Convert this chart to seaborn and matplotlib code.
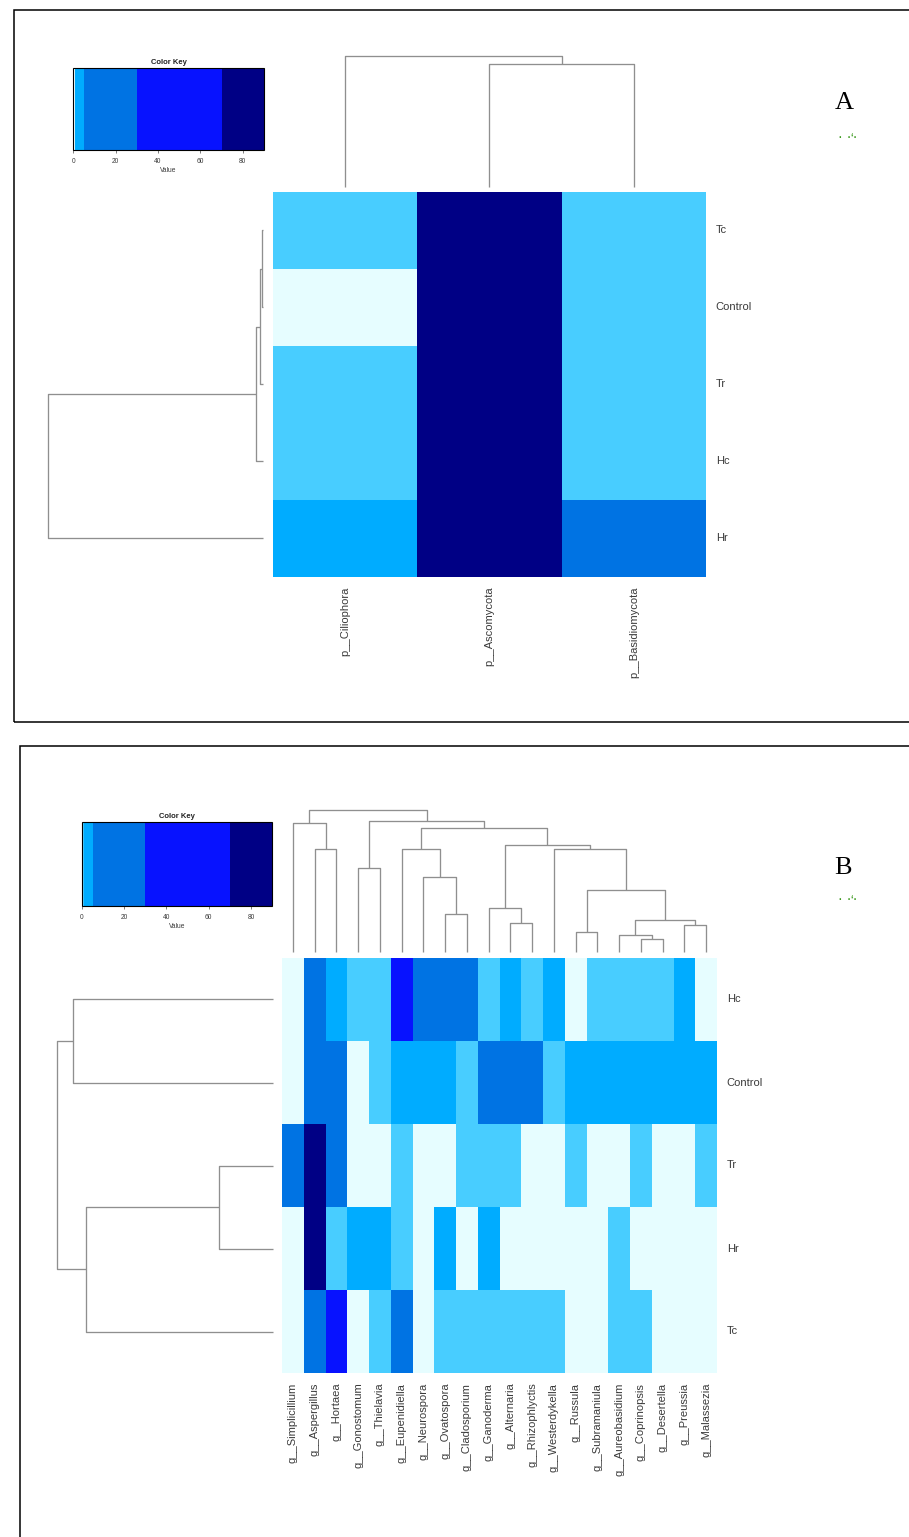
import numpy as np
import pandas as pd
import matplotlib
matplotlib.use("Agg")
import matplotlib.pyplot as plt
from matplotlib.colors import ListedColormap, BoundaryNorm
from matplotlib.cm import ScalarMappable
from matplotlib.ticker import NullLocator
import seaborn as sns

sns.set_theme(style="white")
plt.rcParams["font.family"] = ["Liberation Sans", "DejaVu Sans"]

# ---------------- data ----------------
# Panel A: phylum level abundance (%)
phylum_samples = ["Tc", "Control", "Tr", "Hc", "Hr"]
phyla = ["p__Ciliophora", "p__Ascomycota", "p__Basidiomycota"]
ciliophora = [0.8, 0.2, 0.9, 0.7, 2.6]
ascomycota = [84.5, 81.9, 83.2, 82.7, 78.4]
basidiomycota = [0.9, 0.8, 0.7, 0.8, 13.5]

# Panel B: genus level abundance (%)
genus_samples = ["Hc", "Control", "Tr", "Hr", "Tc"]
genera = ["g__Simplicillium", "g__Aspergillus", "g__Hortaea", "g__Gonostomum",
          "g__Thielavia", "g__Eupenidiella", "g__Neurospora", "g__Ovatospora",
          "g__Cladosporium", "g__Ganoderma", "g__Alternaria", "g__Rhizophlyctis",
          "g__Westerdykella", "g__Russula", "g__Subramaniula", "g__Aureobasidium",
          "g__Coprinopsis", "g__Desertella", "g__Preussia", "g__Malassezia"]
hc = [0.1, 12.4, 2.8, 0.8, 0.7, 41.6, 14.9, 9.8, 7.6, 0.9, 2.2, 0.8, 3.4, 0.2, 0.9, 0.8, 0.7, 0.8, 2.9, 0.3]
control = [0.2, 16.8, 11.3, 0.3, 0.8, 3.6, 2.9, 2.4, 0.9, 8.7, 6.1, 5.8, 0.9, 3.1, 2.6, 4.1, 2.3, 2.7, 1.9, 3.3]
tr = [9.4, 76.5, 13.2, 0.1, 0.2, 0.8, 0.1, 0.3, 0.9, 0.7, 0.8, 0.2, 0.1, 0.7, 0.2, 0.1, 0.8, 0.2, 0.1, 0.9]
hr = [0.2, 81.3, 0.9, 2.7, 3.4, 0.8, 0.2, 2.1, 0.3, 2.5, 0.2, 0.1, 0.3, 0.2, 0.1, 0.9, 0.2, 0.1, 0.2, 0.3]
tc = [0.3, 18.2, 47.5, 0.2, 0.8, 10.6, 0.1, 0.9, 0.8, 0.7, 0.8, 0.9, 0.7, 0.2, 0.3, 0.8, 0.9, 0.1, 0.2, 0.3]

# Hierarchical clustering results: (child a, child b, merge height);
# leaves are 0..n-1, merged clusters are numbered n, n+1, ...
phylum_row_tree = [(0, 1, 1.7), (5, 2, 3.3), (6, 3, 7.3), (7, 4, 215.0)]
phylum_col_tree = [(1, 2, 122.3), (0, 3, 130.7)]
genus_row_tree = [(0, 1, 199.4), (2, 3, 53.7), (6, 4, 186.7), (5, 7, 215.4)]
genus_col_tree = [(1, 2, 3.07), (0, 20, 3.87), (3, 4, 2.50), (7, 8, 1.12),
                  (6, 23, 2.23), (5, 24, 3.07), (10, 11, 0.85), (9, 26, 1.30),
                  (13, 14, 0.59), (16, 17, 0.39), (15, 29, 0.51), (18, 19, 0.79),
                  (30, 31, 0.95), (28, 32, 1.85), (12, 33, 3.07), (27, 34, 3.20),
                  (25, 35, 3.72), (22, 36, 3.93), (21, 37, 4.25)]

# colour scale
breaks = [0, 0.6, 1.0, 5, 30, 70, 90]
colors = ["#E6FDFF", "#48CDFF", "#00ACFF", "#0073E3", "#0712FF", "#000085"]
cmap = ListedColormap(colors)
norm = BoundaryNorm(breaks, cmap.N)

df_a = pd.DataFrame({phyla[0]: ciliophora, phyla[1]: ascomycota, phyla[2]: basidiomycota},
                    index=phylum_samples)
df_b = pd.DataFrame([hc, control, tr, hr, tc], index=genus_samples, columns=genera)

# ---------------- layout helpers ----------------
W, H = 909, 1537
fig = plt.figure(figsize=(W / 100, H / 100), dpi=100)
fig.patch.set_facecolor("white")


def px_axes(x0, y0, x1, y1):
    return fig.add_axes([x0 / W, 1 - y1 / H, (x1 - x0) / W, (y1 - y0) / H])


LINE = "#8f8f8f"
TXT = "#3a3a3a"


def draw_dendrogram(ax, tree, n, orient):
    pos = {i: i + 0.5 for i in range(n)}
    hgt = {i: 0.0 for i in range(n)}
    for k, (a, b, h) in enumerate(tree):
        xs = [pos[a], pos[a], pos[b], pos[b]]
        ys = [hgt[a], h, h, hgt[b]]
        if orient == "top":
            ax.plot(xs, ys, color=LINE, lw=0.95, clip_on=False, solid_capstyle="butt")
        else:
            ax.plot(ys, xs, color=LINE, lw=0.95, clip_on=False, solid_capstyle="butt")
        pos[n + k] = (pos[a] + pos[b]) / 2
        hgt[n + k] = h
    root = tree[-1][2]
    if orient == "top":
        ax.set_xlim(0, n)
        ax.set_ylim(0, root)
    else:
        ax.set_ylim(n, 0)
        ax.set_xlim(root, 0)
    ax.axis("off")


def draw_heatmap(ax, df):
    sns.heatmap(df, ax=ax, cmap=cmap, norm=norm, cbar=False,
                xticklabels=list(df.columns), yticklabels=list(df.index))
    ax.set_xlabel("")
    ax.set_ylabel("")
    ax.yaxis.tick_right()
    ax.tick_params(axis="both", length=0, labelsize=8, labelcolor=TXT, pad=7)
    for t in ax.get_yticklabels():
        t.set_rotation(0)
        t.set_ha("left")
        t.set_va("center")
    for t in ax.get_xticklabels():
        t.set_rotation(90)
        t.set_ha("center")
        t.set_va("top")


def draw_key(ax):
    cb = fig.colorbar(ScalarMappable(norm=norm, cmap=cmap), cax=ax,
                      orientation="horizontal", spacing="proportional",
                      ticks=[0, 20, 40, 60, 80])
    cb.outline.set_edgecolor("black")
    cb.outline.set_linewidth(0.8)
    ax.xaxis.set_minor_locator(NullLocator())
    ax.tick_params(axis="x", which="major", bottom=True, labelsize=4.8, length=2.5,
                   width=0.6, pad=3, labelcolor=TXT, color="#666666", direction="out")
    ax.set_xlabel("Value", fontsize=4.8, labelpad=2, color=TXT)
    ax.set_title("Color Key", fontsize=5.5, fontweight="bold", pad=3, color="#222222")


# ---------------- panel A ----------------
ax_hA = px_axes(272.7, 192, 706, 577)
draw_heatmap(ax_hA, df_a)
ax_cA = px_axes(272.7, 56, 706, 186.7)
draw_dendrogram(ax_cA, phylum_col_tree, len(phyla), "top")
ax_rA = px_axes(48.3, 192, 263.3, 577)
draw_dendrogram(ax_rA, phylum_row_tree, len(phylum_samples), "left")
ax_kA = px_axes(73.3, 68, 264, 150)
draw_key(ax_kA)

# ---------------- panel B ----------------
ax_hB = px_axes(282, 958, 717, 1373)
draw_heatmap(ax_hB, df_b)
ax_cB = px_axes(282, 810, 717, 951.7)
draw_dendrogram(ax_cB, genus_col_tree, len(genera), "top")
ax_rB = px_axes(57.3, 958, 272.7, 1373)
draw_dendrogram(ax_rB, genus_row_tree, len(genus_samples), "left")
ax_kB = px_axes(82, 822, 272, 906)
draw_key(ax_kB)

# ---------------- frames and panel letters ----------------
for (x0, y0, x1, y1) in [(14, 10, 920, 722), (20, 746, 920, 1545)]:
    fig.add_artist(plt.Rectangle((x0 / W, 1 - y1 / H), (x1 - x0) / W, (y1 - y0) / H,
                                 transform=fig.transFigure, fill=False,
                                 ec="black", lw=1.1))

for letter, (x, y) in [("A", (844, 103)), ("B", (843, 868))]:
    fig.text(x / W, 1 - y / H, letter, fontsize=19, family="Liberation Serif",
             ha="center", va="center", color="black")
for (x, y) in [(848, 138), (848, 900)]:
    fig.text(x / W, 1 - y / H, "·  ·ʻ·", fontsize=7, color="#3c9a1f",
             ha="center", va="center", fontweight="bold")

fig.savefig("out.png", dpi=100, facecolor="white")
